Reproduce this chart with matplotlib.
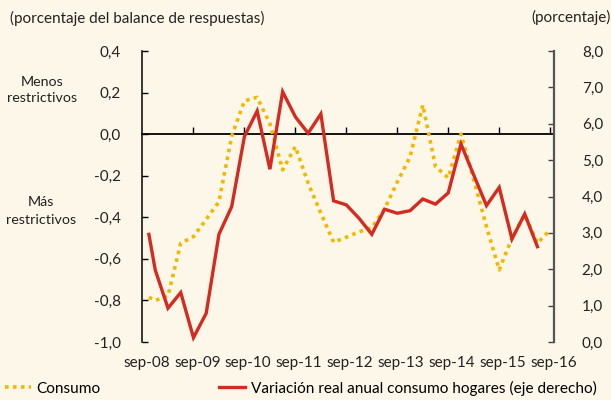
import numpy as np
import matplotlib
matplotlib.use("Agg")
import matplotlib.pyplot as plt
from matplotlib.lines import Line2D

plt.rcParams['font.family'] = ['Lato', 'DejaVu Sans']

# quarters counted from sep-08 (first point of each series is a half step)
t_consumo = np.r_[0.5, np.arange(1, 33)]
t_hogares = np.r_[0.5, np.arange(1, 32)]

consumo = [-0.785, -0.80, -0.778, -0.525, -0.493, -0.41, -0.325, -0.01,
           0.16, 0.177, 0.05, -0.172, -0.06, -0.236, -0.38, -0.52,
           -0.496, -0.47, -0.45, -0.36, -0.23, -0.11, 0.14, -0.156,
           -0.21, 0.0, -0.22, -0.445, -0.653, -0.50, -0.388, -0.525, -0.46]

hogares = [2.96, 1.98, 0.93, 1.36, 0.12, 0.79, 2.96, 3.72,
           5.65, 6.35, 4.75, 6.88, 6.19, 5.74, 6.27, 3.88,
           3.77, 3.40, 2.96, 3.65, 3.54, 3.61, 3.93, 3.79,
           4.10, 5.44, 4.59, 3.75, 4.25, 2.83, 3.52, 2.62]

xlabels = ['sep-08', 'sep-09', 'sep-10', 'sep-11', 'sep-12',
           'sep-13', 'sep-14', 'sep-15', 'sep-16']
left_ticks = [-1.0, -0.8, -0.6, -0.4, -0.2, 0.0, 0.2, 0.4]
left_labels = ['-1,0', '-0,8', '-0,6', '-0,4', '-0,2', '0,0', '0,2', '0,4']
right_ticks = [0, 1, 2, 3, 4, 5, 6, 7, 8]
right_labels = ['0,0', '1,0', '2,0', '3,0', '4,0', '5,0', '6,0', '7,0', '8,0']

bg = '#fdf7e9'
yellow = '#f2b800'
red = '#d42a20'
txt = '#222222'
fs = 11

fig = plt.figure(figsize=(6.11, 4.0), dpi=100)
fig.patch.set_facecolor(bg)
ax = fig.add_axes([142 / 611, 58 / 400, 412 / 611, 291 / 400])
ax.set_facecolor(bg)
ax.set_xlim(-0.04, 32.05)
ax.set_ylim(-1.0, 0.4)

ax.plot(t_consumo, consumo, color=yellow, lw=2.6, ls=(0, (1, 1.2)),
        solid_capstyle='butt', dash_capstyle='butt')

ax2 = ax.twinx()
ax2.set_ylim(0, 8)
ax2.plot(t_hogares, hogares, color=red, lw=2.4, solid_joinstyle='miter')

# spines
for s in ['top', 'right', 'bottom']:
    ax.spines[s].set_visible(False)
for s in ['top', 'left', 'bottom']:
    ax2.spines[s].set_visible(False)
ax.spines['left'].set_color('black')
ax.spines['left'].set_linewidth(1.1)
ax2.spines['right'].set_color('#555555')
ax2.spines['right'].set_linewidth(1.6)

ax.set_yticks(left_ticks)
ax.set_yticklabels(left_labels, fontsize=fs, color=txt)
ax.tick_params(axis='y', direction='in', length=4, width=1, pad=15)
ax2.set_yticks(right_ticks)
ax2.set_yticklabels(right_labels, fontsize=fs, color=txt)
ax2.tick_params(axis='y', direction='in', length=4, width=1, pad=20, color='#444444')

ax.set_xticks(np.arange(0, 33, 4) + 0.3)
ax.set_xticklabels(xlabels, fontsize=fs, color=txt)
ax.tick_params(axis='x', length=0, pad=10)

# zero line with year ticks
sec = ax.secondary_xaxis(1 / 1.4)
sec.set_xticks(np.arange(4, 33, 4))
sec.tick_params(axis='x', direction='out', length=5, width=1, color='black',
                labeltop=False, labelbottom=False)
sec.spines['top'].set_color('black')
sec.spines['top'].set_linewidth(1.3)

fig.text(10 / 611, 1 - 18 / 400, '(porcentaje del balance de respuestas)',
         fontsize=fs, ha='left', va='center', color=txt)
fig.text(1.0, 1 - 17 / 400, '(porcentaje)', fontsize=fs, ha='right',
         va='center', color=txt)
fig.text(42 / 611, 1 - 90 / 400, 'Menos\nrestrictivos', fontsize=10.3,
         ha='center', va='center', linespacing=1.3, color=txt)
fig.text(41 / 611, 1 - 211 / 400, 'Más\nrestrictivos', fontsize=10.3,
         ha='center', va='center', linespacing=1.6, color=txt)

handles = [Line2D([], [], color=yellow, lw=2.6, ls=(0, (1, 1.2))),
           Line2D([], [], color=red, lw=2.4)]
fig.legend(handles, ['Consumo', 'Variación real anual consumo hogares (eje derecho)'],
           loc='center left', bbox_to_anchor=(0, 1 - 388 / 400), ncol=2,
           frameon=False, fontsize=11.1, handlelength=1.7, handletextpad=0.35,
           columnspacing=7.7, borderaxespad=0, borderpad=0.3)

fig.savefig('out.png', dpi=100, facecolor=bg)
